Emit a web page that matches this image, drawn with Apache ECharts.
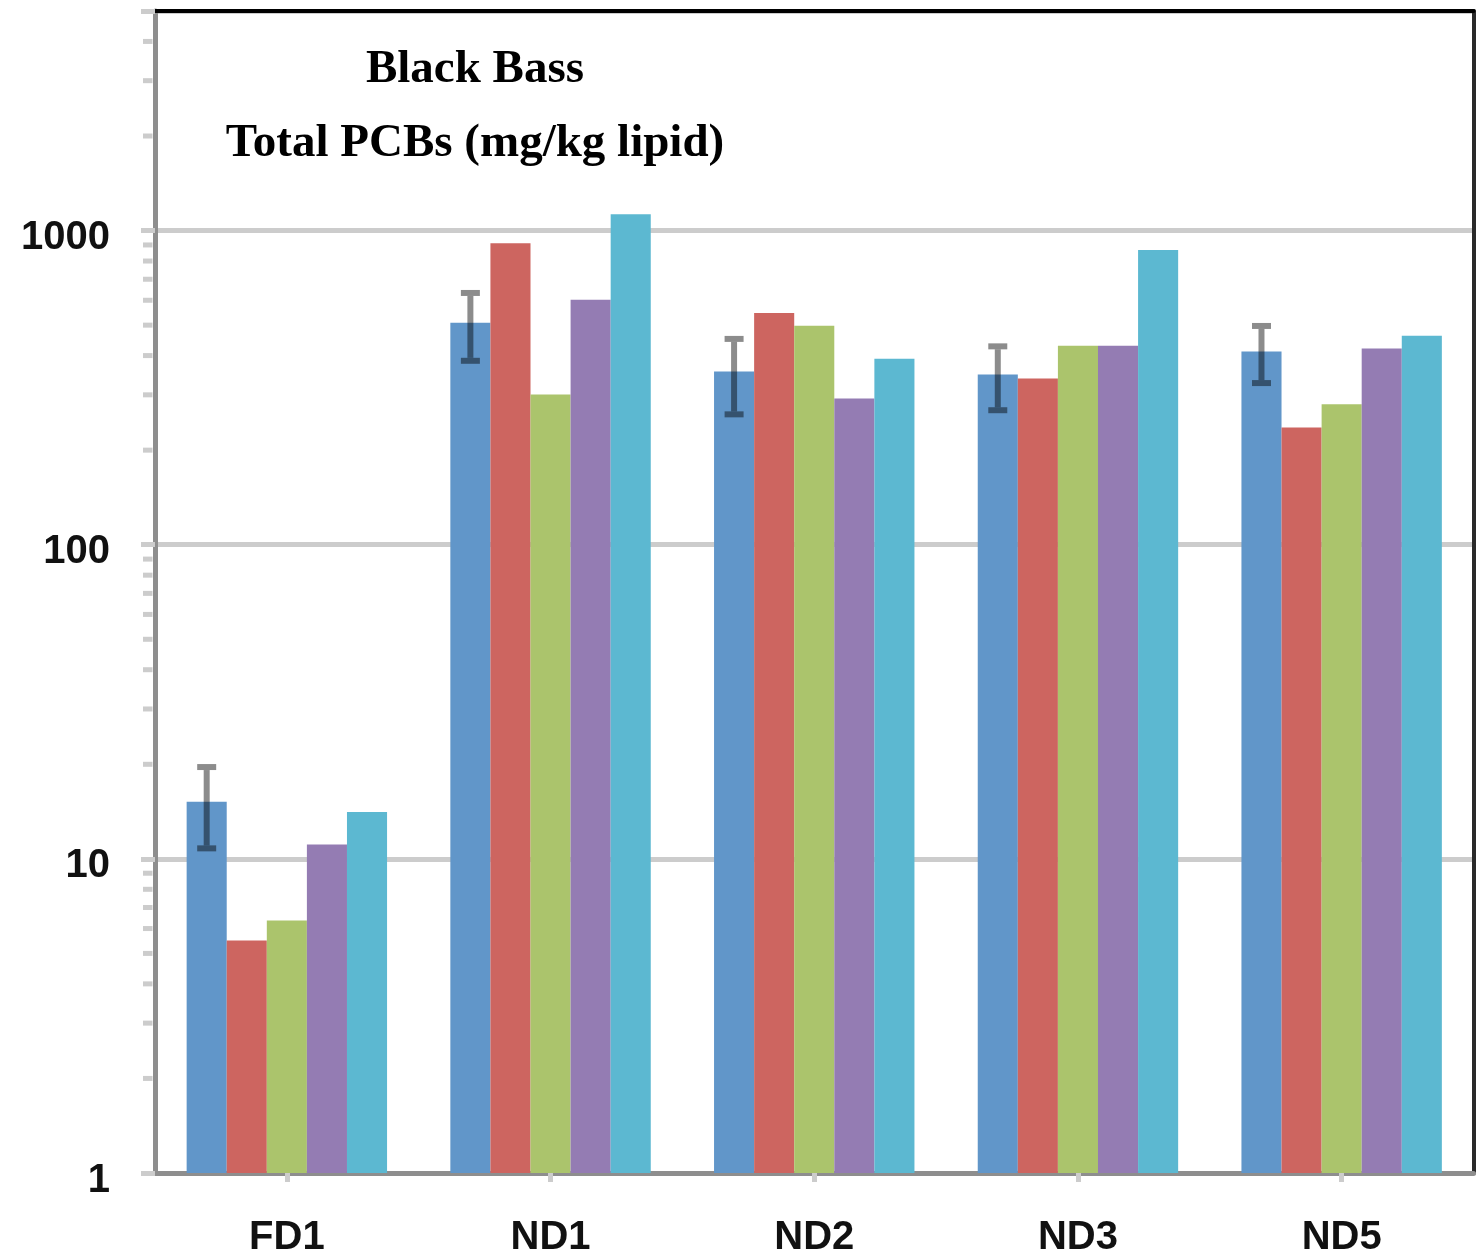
<!DOCTYPE html>
<html>
<head>
<meta charset="utf-8">
<title>Black Bass – Total PCBs</title>
<script src="https://cdn.jsdelivr.net/npm/echarts@6/dist/echarts.min.js"></script>
<style>
  html, body { margin: 0; padding: 0; background: #ffffff; }
  #chart { width: 1481px; height: 1258px; }
</style>
</head>
<body>
<div id="chart"></div>
<script>
// Sampling sites
const categories = ['FD1', 'ND1', 'ND2', 'ND3', 'ND5'];

// Total PCBs (mg/kg lipid), one array per sampling group
const group1 = [15.2, 509, 356, 348, 412];
const group2 = [5.5, 912, 547, 338, 236];
const group3 = [6.37, 301, 498, 430, 280];
const group4 = [11.1, 602, 292, 430, 421];
const group5 = [14.1, 1128, 391, 867, 463];

// Error (± value) on the first group
const group1Err = [4.4, 124, 96, 80, 85];

// Log axis range and its minor tick values
const yMin = 1;
const yMax = 5000;
const minorTickValues = [
  2, 3, 4, 5, 6, 7, 8, 9,
  20, 30, 40, 50, 60, 70, 80, 90,
  200, 300, 400, 500, 600, 700, 800, 900,
  2000, 3000, 4000
];

const colors = ['#6196c9', '#cd6560', '#abc46c', '#947cb3', '#5cb8d1'];
const groups = [group1, group2, group3, group4, group5];
const barCategoryGap = 0.24;

const chart = echarts.init(document.getElementById('chart'), null, { renderer: 'canvas' });

const barSeries = groups.map((vals, i) => ({
  name: 'group' + (i + 1),
  type: 'bar',
  xAxisIndex: 0,
  yAxisIndex: 0,
  data: vals,
  barGap: '0%',
  barCategoryGap: (barCategoryGap * 100) + '%',
  itemStyle: { color: colors[i] },
  z: 3
}));

// Error bars centred on the first bar of each category
const errData = categories.map((c, i) => [i, group1[i] - group1Err[i], group1[i] + group1Err[i]]);

const errorSeries = {
  type: 'custom',
  xAxisIndex: 0,
  yAxisIndex: 0,
  data: errData,
  encode: { x: 0, y: [1, 2] },
  z: 5,
  silent: true,
  renderItem(params, api) {
    const idx = api.value(0);
    const lo = api.value(1);
    const hi = api.value(2);
    const band = api.size([1, 1])[0];
    const barW = band * (1 - barCategoryGap) / groups.length;
    const pLo = api.coord([idx, lo]);
    const pHi = api.coord([idx, hi]);
    const x = pLo[0] - 2 * barW;
    const stemW = 6, capW = 19, capH = 6;
    const fill = 'rgba(0,0,0,0.45)';
    return {
      type: 'group',
      children: [
        { type: 'rect', shape: { x: x - stemW / 2, y: pHi[1] + capH / 2, width: stemW, height: pLo[1] - pHi[1] - capH }, style: { fill } },
        { type: 'rect', shape: { x: x - capW / 2, y: pHi[1] - capH / 2, width: capW, height: capH }, style: { fill } },
        { type: 'rect', shape: { x: x - capW / 2, y: pLo[1] - capH / 2, width: capW, height: capH }, style: { fill } }
      ]
    };
  }
};

// Minor ticks of the log axis (2..9 of every decade), outside the axis line
const minorTickSeries = {
  type: 'custom',
  xAxisIndex: 0,
  yAxisIndex: 0,
  data: minorTickValues.map(v => [0, v]),
  encode: { x: 0, y: 1 },
  silent: true,
  clip: false,
  z: 1,
  renderItem(params, api) {
    const y = api.coord([0, api.value(1)])[1];
    const x0 = params.coordSys.x;
    return {
      type: 'rect',
      shape: { x: x0 - 12, y: y - 2.5, width: 9.5, height: 5 },
      style: { fill: '#cccccc' }
    };
  }
};

const isPow10 = v => {
  const l = Math.log10(v);
  return Math.abs(l - Math.round(l)) < 1e-9;
};

const titleStyle = { fontFamily: 'Liberation Serif', fontWeight: 'bold', fontSize: 47, color: '#000000' };

const option = {
  backgroundColor: '#ffffff',
  animation: false,
  title: [
    { text: 'Black Bass', left: 475, top: 46, padding: 0, textAlign: 'center', textStyle: titleStyle },
    { text: 'Total PCBs (mg/kg lipid)', left: 475, top: 120, padding: 0, textAlign: 'center', textStyle: titleStyle }
  ],
  grid: { left: 155, right: 7.5, top: 11, bottom: 81.5, containLabel: false },
  xAxis: [
    {
      type: 'category',
      data: categories,
      position: 'bottom',
      axisLine: { show: true, lineStyle: { color: '#8e8e8e', width: 5 } },
      axisTick: { show: true, alignWithLabel: true, length: 9, lineStyle: { color: '#cccccc', width: 5 } },
      axisLabel: { margin: 45, fontFamily: 'Liberation Sans', fontWeight: 'bold', fontSize: 40, color: '#111111' },
      splitLine: { show: false }
    },
    {
      type: 'category',
      data: categories,
      position: 'top',
      axisLine: { show: true, lineStyle: { color: '#000000', width: 4 } },
      axisTick: { show: false },
      axisLabel: { show: false },
      splitLine: { show: false }
    }
  ],
  yAxis: [
    {
      type: 'log',
      logBase: 10,
      min: yMin,
      max: yMax,
      position: 'left',
      axisLine: { show: true, lineStyle: { color: '#8e8e8e', width: 5 } },
      axisTick: { show: true, length: 14, lineStyle: { color: '#cccccc', width: 5 } },
      axisLabel: {
        margin: 45,
        fontFamily: 'Liberation Sans',
        fontWeight: 'bold',
        fontSize: 40,
        color: '#111111',
        verticalAlign: 'top',
        lineHeight: 15,
        formatter: v => (isPow10(v) ? String(Math.round(v)) : '')
      },
      splitLine: { show: true, lineStyle: { color: '#cccccc', width: 5 } }
    },
    {
      type: 'log',
      logBase: 10,
      min: yMin,
      max: yMax,
      position: 'right',
      axisLine: { show: true, lineStyle: { color: '#2a2a2a', width: 4 } },
      axisTick: { show: false },
      axisLabel: { show: false },
      splitLine: { show: false }
    }
  ],
  series: [minorTickSeries, ...barSeries, errorSeries]
};

chart.setOption(option);
</script>
</body>
</html>
